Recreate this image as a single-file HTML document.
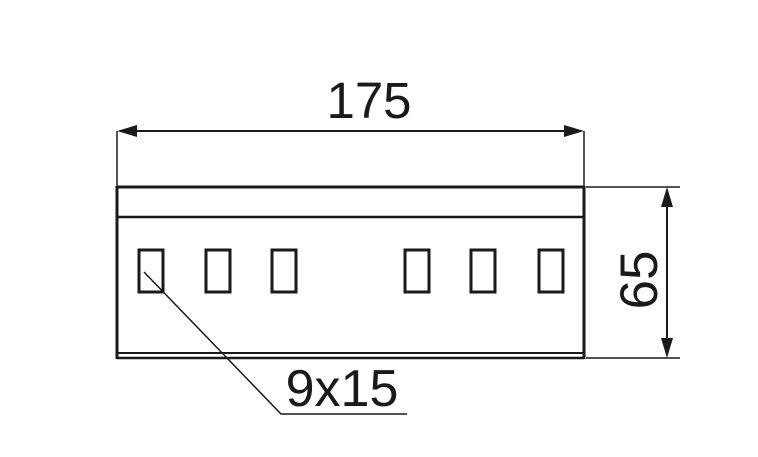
<!DOCTYPE html>
<html><head><style>html,body{margin:0;padding:0;background:#fff}</style></head>
<body>
<svg width="758" height="452" viewBox="0 0 758 452" xmlns="http://www.w3.org/2000/svg" font-family="Liberation Sans, sans-serif" fill="none" stroke="#1a1a1a">
<line x1="117" y1="131" x2="117" y2="187" stroke-width="1.5"/>
<line x1="584" y1="131" x2="584" y2="187" stroke-width="1.5"/>
<line x1="120" y1="131" x2="581" y2="131" stroke-width="2"/>
<polygon points="117,131 137,125 137,137" fill="#1a1a1a" stroke="none"/>
<polygon points="584,131 564,125 564,137" fill="#1a1a1a" stroke="none"/>
<text x="369" y="118" font-size="51" text-anchor="middle" fill="#1a1a1a" stroke="none">175</text>
<line x1="117" y1="187" x2="584" y2="187" stroke-width="3"/>
<line x1="117" y1="217" x2="584" y2="217" stroke-width="2.5"/>
<line x1="117" y1="186" x2="117" y2="359" stroke-width="3"/>
<line x1="584" y1="186" x2="584" y2="359" stroke-width="3"/>
<line x1="117" y1="353" x2="584" y2="353" stroke-width="2"/>
<line x1="117" y1="358" x2="584" y2="358" stroke-width="2.5"/>
<g stroke-width="3">
<rect x="139" y="250" width="24" height="42"/>
<rect x="206" y="250" width="24" height="42"/>
<rect x="272" y="250" width="24" height="42"/>
<rect x="405" y="250" width="24" height="42"/>
<rect x="471" y="250" width="24" height="42"/>
<rect x="539" y="250" width="24" height="42"/>
</g>
<polyline points="144,272 281,414 407,414" stroke-width="1.5"/>
<text x="342" y="406" font-size="52" text-anchor="middle" fill="#1a1a1a" stroke="none">9x15</text>
<line x1="586" y1="187" x2="680" y2="187" stroke-width="1.5"/>
<line x1="586" y1="358" x2="680" y2="358" stroke-width="1.5"/>
<line x1="667" y1="190" x2="667" y2="355" stroke-width="2"/>
<polygon points="667,187 661,207 673,207" fill="#1a1a1a" stroke="none"/>
<polygon points="667,358 661,338 673,338" fill="#1a1a1a" stroke="none"/>
<text x="0" y="0" font-size="53" text-anchor="middle" fill="#1a1a1a" stroke="none" transform="translate(657,280) rotate(-90)">65</text>
</svg>
</body></html>
